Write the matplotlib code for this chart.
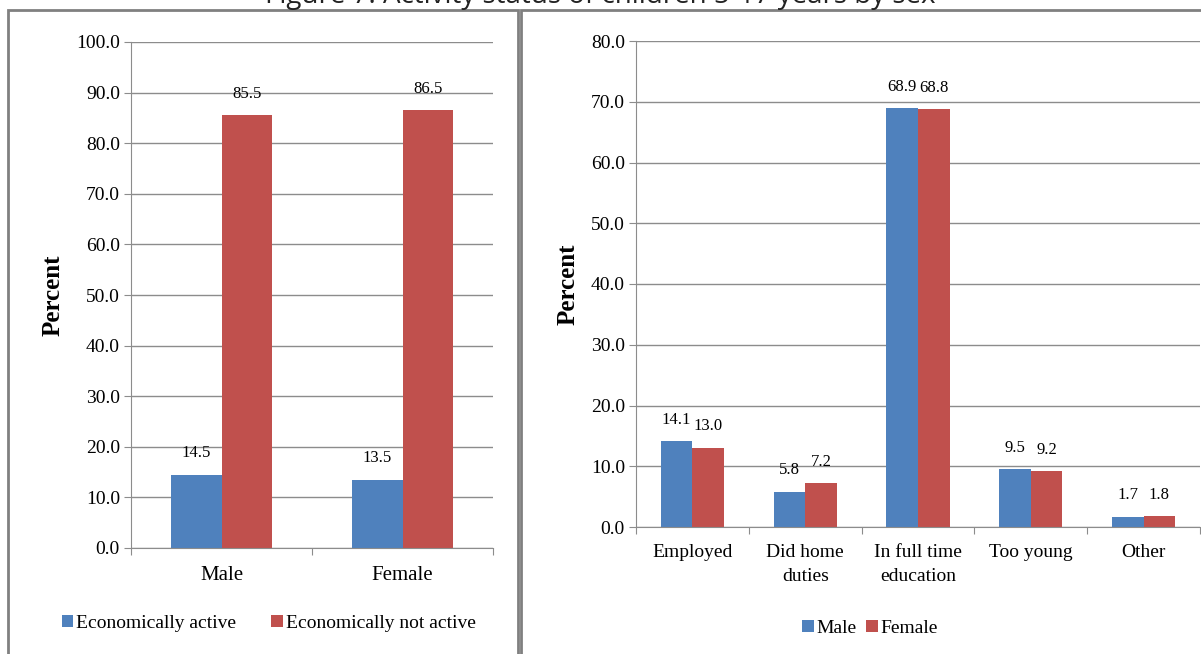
import matplotlib
matplotlib.use('Agg')
import matplotlib.pyplot as plt
import numpy as np
from matplotlib.patches import Rectangle

# data - left panel
sex = ['Male', 'Female']
econ_active = [14.5, 13.5]
econ_not_active = [85.5, 86.5]

# data - right panel
activity = ['Employed', 'Did home\nduties', 'In full time\neducation', 'Too young', 'Other']
male = [14.1, 5.8, 68.9, 9.5, 1.7]
female = [13.0, 7.2, 68.8, 9.2, 1.8]

blue = '#4F81BD'
red = '#C0504D'
grid_col = '#8c8c8c'
serif = 'Liberation Serif'

plt.rcParams['font.family'] = serif

fig = plt.figure(figsize=(12.01, 6.54), dpi=100)

# panel frames
fig.patches.append(Rectangle((8/1201, -0.05), 510/1201, 1.05 - 10/654, transform=fig.transFigure,
                             fill=False, edgecolor='#808080', lw=2))
fig.patches.append(Rectangle((521/1201, -0.05), 700/1201, 1.05 - 10/654, transform=fig.transFigure,
                             fill=False, edgecolor='#808080', lw=2))

# title is cropped at the top edge, like in the source
fig.text(600/1201, 1 - 3/654, 'Figure 7: Activity status of children 5-17 years by sex',
         ha='center', va='baseline', fontsize=20, family='Open Sans', color='#222222')


def style_axes(ax, ymax, step, ncat, tick_fs):
    ax.set_ylim(0, ymax)
    ax.set_xlim(-0.5, ncat - 0.5)
    ax.set_yticks(np.arange(0, ymax + 0.01, step))
    ax.set_yticklabels(['%.1f' % v for v in np.arange(0, ymax + 0.01, step)], fontsize=tick_fs)
    ax.yaxis.grid(True, color=grid_col, lw=1)
    ax.set_axisbelow(True)
    for s in ['top', 'right']:
        ax.spines[s].set_visible(False)
    ax.spines['left'].set_color(grid_col)
    ax.spines['bottom'].set_color(grid_col)
    ax.tick_params(axis='y', length=5, color=grid_col, pad=3)
    # tick marks at category borders, labels in between
    ax.set_xticks(np.arange(-0.5, ncat, 1.0))
    ax.set_xticklabels([])
    ax.tick_params(axis='x', length=5, color=grid_col)
    ax.set_ylabel('Percent', fontsize=18, fontweight='bold', labelpad=8)


def label_bars(ax, bars, vals, dx=0):
    for b, v in zip(bars, vals):
        ax.annotate('%.1f' % v, (b.get_x() + b.get_width() / 2, v), xytext=(dx, 15.5),
                    textcoords='offset points', ha='center', va='center', fontsize=12)


# left chart
ax1 = fig.add_axes([131/1201, 1 - 548/654, 362/1201, 506/654])
x1 = np.arange(len(sex))
w = 0.28
b1 = ax1.bar(x1 - w/2, econ_active, w, color=blue, label='Economically active')
b2 = ax1.bar(x1 + w/2, econ_not_active, w, color=red, label='Economically not active')
style_axes(ax1, 100, 10, len(sex), 14)
for i, s in enumerate(sex):
    ax1.text(i, -0.035, s, transform=ax1.get_xaxis_transform(), ha='center', va='top', fontsize=15)
label_bars(ax1, b1, econ_active)
label_bars(ax1, b2, econ_not_active)
ax1.legend(loc='upper center', bbox_to_anchor=(0.38, -0.097), ncol=2, frameon=False,
           fontsize=14, handlelength=0.6, handleheight=0.6, handletextpad=0.15, columnspacing=1.8)

# right chart
ax2 = fig.add_axes([636/1201, 1 - 527/654, 564/1201, 486/654])
x2 = np.arange(len(activity))
b3 = ax2.bar(x2 - w/2, male, w, color=blue, label='Male')
b4 = ax2.bar(x2 + w/2, female, w, color=red, label='Female')
style_axes(ax2, 80, 10, len(activity), 14)
for i, s in enumerate(activity):
    ax2.text(i, -0.036, s, transform=ax2.get_xaxis_transform(), ha='center', va='top',
             fontsize=14, linespacing=1.5)
label_bars(ax2, b3, male)
label_bars(ax2, b4, female)
ax2.legend(loc='upper center', bbox_to_anchor=(0.415, -0.155), ncol=2, frameon=False,
           fontsize=14, handlelength=0.6, handleheight=0.6, handletextpad=0.15, columnspacing=0.5)

fig.savefig('out.png', dpi=100)
